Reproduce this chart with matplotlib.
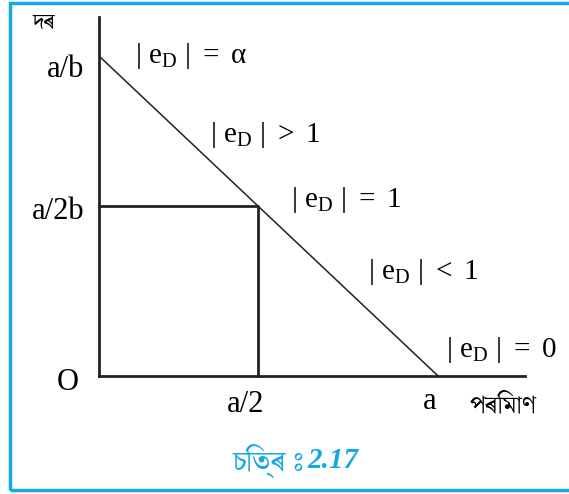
import matplotlib
matplotlib.use('Agg')
import matplotlib.pyplot as plt
from matplotlib import font_manager
from matplotlib.patches import Rectangle

# demand line, a = 1 and a/b = 1
q_line = [0.006, 1.0]
p_line = [1.0, 0.0]
# midpoint as it is drawn in the figure
q_mid = 0.469
p_mid = 0.534

elastic_labels = ['=\\ \\alpha', '>\\ 1', '=\\ 1', '<\\ 1', '=\\ 0']
label_q = [0.106, 0.327, 0.566, 0.794, 1.024]
label_p = [1.006, 0.758, 0.553, 0.327, 0.082]

blue = '#16a8e2'

# find a font that has Bengali/Assamese glyphs
found = []
for f in font_manager.fontManager.ttflist:
    try:
        cmap = matplotlib.ft2font.FT2Font(f.fname).get_charmap()
    except Exception:
        continue
    if 0x09A6 in cmap and 0x09F0 in cmap:
        found.append((f.name, f.weight, f.style))
found = sorted(set(found), key=lambda t: ('Bengali' not in t[0], 'Serif' not in t[0], 'Mono' in t[0], t[0]))
beng_family = [t[0] for t in found[:1]] + ['DejaVu Sans']

plt.rcParams['font.family'] = 'Liberation Serif'
plt.rcParams['mathtext.fontset'] = 'custom'
plt.rcParams['mathtext.rm'] = 'Liberation Serif'
plt.rcParams['mathtext.it'] = 'Liberation Serif'

fig = plt.figure(figsize=(5.69, 4.94), dpi=100)
ax = fig.add_axes([0, 0, 1, 1])
ax.set_xlim(-0.292, 1.386)
ax.set_ylim(-0.371, 1.182)
ax.axis('off')

# border
fig.patches.append(Rectangle((10 / 569, 4 / 494), 600 / 569, 487 / 494, transform=fig.transFigure,
                             fill=False, edgecolor=blue, linewidth=2.5))

# axes
ax.plot([0, 0], [0, 1.129], c='#222222', lw=2)
ax.plot([0, 1.257], [0, 0], c='#222222', lw=2)
# demand curve
ax.plot(q_line, p_line, c='#222222', lw=1.1)
# rectangle at midpoint
ax.plot([0, q_mid, q_mid], [p_mid, p_mid, 0], c='#222222', lw=2)

ax.text(-0.162, 1.110, 'দৰ', family=beng_family, fontsize=16, ha='center', va='center')
ax.text(1.192, -0.094, 'পৰিমাণ', family=beng_family, fontsize=18, ha='center', va='center')

ax.text(-0.100, 0.962, 'a/b', fontsize=22, ha='center', va='center')
ax.text(-0.120, p_mid - 0.018, 'a/2b', fontsize=22, ha='center', va='center')
ax.text(-0.092, -0.022, 'O', fontsize=22, ha='center', va='center')
ax.text(q_mid - 0.038, -0.091, 'a/2', fontsize=22, ha='center', va='center')
ax.text(0.976, -0.079, 'a', fontsize=22, ha='center', va='center')

for lab, x, y in zip(elastic_labels, label_q, label_p):
    ax.text(x, y, r'$|\ \mathrm{e}_\mathrm{D}\ |\ ' + lab + '$', fontsize=21, ha='left', va='center')

ax.text(0.608, -0.267, 'চিত্ৰ ঃ', family=beng_family, fontsize=21,
        color=blue, style='italic', weight='bold', ha='right', va='center')
ax.text(0.615, -0.267, '2.17', fontsize=21,
        color=blue, style='italic', weight='bold', ha='left', va='center')

plt.savefig('out.png')
